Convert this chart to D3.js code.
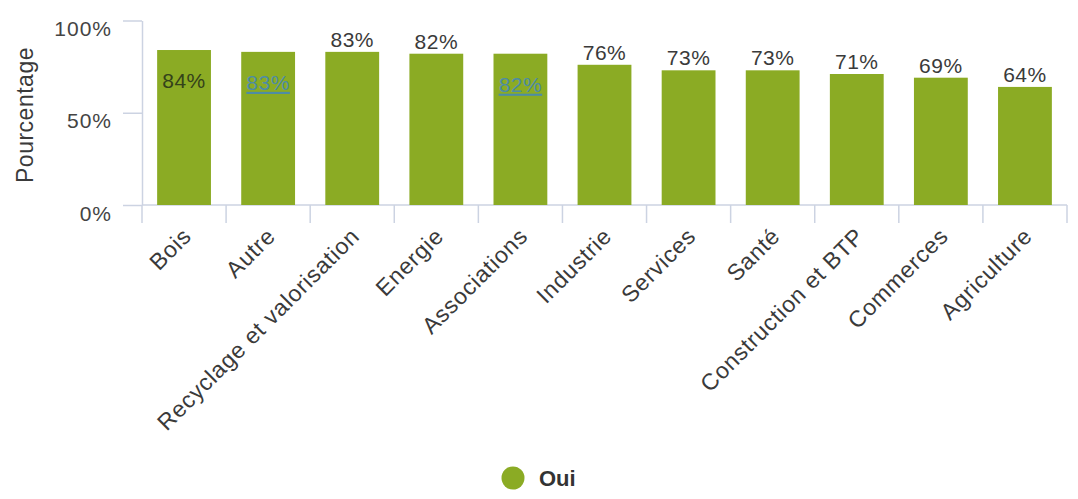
<!DOCTYPE html>
<html>
<head>
<meta charset="utf-8">
<script src="https://cdn.jsdelivr.net/npm/d3@7"></script>
<style>
  html, body { margin: 0; padding: 0; background: #fff; }
  svg { display: block; font-family: "Liberation Sans", Arial, sans-serif; }
</style>
</head>
<body>
<svg id="chart" width="1078" height="499"></svg>
<script>
const categories = ["Bois", "Autre", "Recyclage et valorisation", "Energie", "Associations", "Industrie", "Services", "Santé", "Construction et BTP", "Commerces", "Agriculture"];
const values = [84, 83, 83, 82, 82, 76, 73, 73, 71, 69, 64];
const labelInside = [true, true, false, false, true, false, false, false, false, false, false];
const labelLink = [false, true, false, false, true, false, false, false, false, false, false];
const yTicks = [0, 50, 100];
const seriesName = "Oui";

(function () {
const svg = d3.select("#chart");
const mLeft = 142, mRight = 1067, mTop = 20.5, mBottom = 205;
const barColor = "#8bab24";
const axisColor = "#ccd3e2";
const ff = "'Liberation Sans', Arial, sans-serif";

const x = d3.scaleBand().domain(categories).range([mLeft, mRight]).paddingInner(0.36).paddingOuter(0.18);
const y = d3.scaleLinear().domain([0, 100]).range([mBottom, mTop]);

// Y axis
const yAxis = svg.append("g").attr("transform", `translate(${mLeft},0)`)
  .call(d3.axisLeft(y).tickValues(yTicks).tickSize(19).tickSizeOuter(0).tickPadding(11).tickFormat(d => d + "%"));
yAxis.select(".domain").attr("stroke", axisColor).attr("stroke-width", 1.5);
yAxis.selectAll(".tick line").attr("stroke", axisColor).attr("stroke-width", 1.5);
yAxis.selectAll(".tick text").attr("fill", "#444").attr("font-size", 21).attr("dy", "0.72em")
  .attr("letter-spacing", "1px").attr("font-family", ff);

// X axis line and category boundary ticks
const step = x.step();
const bounds = d3.range(categories.length + 1).map(i => mLeft + i * step);
svg.append("line").attr("x1", mLeft).attr("x2", mRight).attr("y1", mBottom).attr("y2", mBottom)
  .attr("stroke", axisColor).attr("stroke-width", 1.5);
svg.append("g").selectAll("line").data(bounds).join("line")
  .attr("x1", d => d).attr("x2", d => d).attr("y1", mBottom).attr("y2", mBottom + 18)
  .attr("stroke", axisColor).attr("stroke-width", 1.5);

// Category labels
const xAxis = svg.append("g").attr("transform", `translate(0,${mBottom})`)
  .call(d3.axisBottom(x).tickSize(0).tickPadding(0));
xAxis.select(".domain").remove();
xAxis.selectAll(".tick text")
  .attr("fill", "#3a3a3a").attr("font-size", 23).attr("letter-spacing", "0.75px")
  .attr("font-family", ff)
  .attr("text-anchor", "end")
  .attr("transform", "translate(3,27) rotate(-45)")
  .attr("y", 0).attr("dy", "0.35em");

// Bars
svg.append("g").selectAll("rect").data(categories).join("rect")
  .attr("x", d => x(d)).attr("width", x.bandwidth())
  .attr("y", (d, i) => y(values[i])).attr("height", (d, i) => y(0) - y(values[i]))
  .attr("fill", barColor);

// Data labels
svg.append("g").selectAll("text").data(categories).join("text")
  .attr("x", d => x(d) + x.bandwidth() / 2)
  .attr("y", (d, i) => labelInside[i] ? y(values[i]) + 38 : y(values[i]) - 5)
  .attr("text-anchor", "middle").attr("font-size", 21).attr("letter-spacing", "0.5px")
  .attr("fill", (d, i) => labelLink[i] ? "#4d8ca6" : (labelInside[i] ? "#34421a" : "#3a3a3a"))
  .attr("text-decoration", (d, i) => labelLink[i] ? "underline" : null)
  .text((d, i) => values[i] + "%");

// Axis title
svg.append("text").attr("transform", "translate(33,115) rotate(-90)")
  .attr("text-anchor", "middle").attr("font-size", 23).attr("letter-spacing", "0.5px").attr("fill", "#3a3a3a")
  .text("Pourcentage");

// Legend
svg.append("circle").attr("cx", 513).attr("cy", 478).attr("r", 11.5).attr("fill", barColor);
svg.append("text").attr("x", 539).attr("y", 486).attr("font-size", 22).attr("font-weight", "bold")
  .attr("fill", "#333").text(seriesName);
})();
</script>
</body>
</html>
